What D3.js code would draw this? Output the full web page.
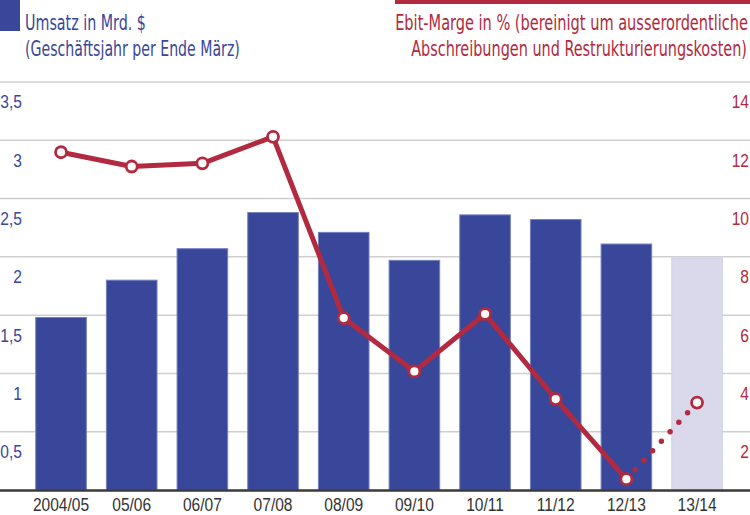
<!DOCTYPE html>
<html>
<head>
<meta charset="utf-8">
<script src="https://cdn.jsdelivr.net/npm/d3@7"></script>
<style>
  body { margin: 0; background: #fff; }
  svg { display: block; font-family: "Liberation Sans Narrow", "DejaVu Sans Condensed", sans-serif; }
</style>
</head>
<body>
<svg id="chart" width="750" height="515"></svg>
<script>
// Umsatz in Mrd. $ und Ebit-Marge in %
var categories = ["2004/05", "05/06", "06/07", "07/08", "08/09", "09/10", "10/11", "11/12", "12/13", "13/14"];
var umsatz = [1.48, 1.80, 2.07, 2.38, 2.21, 1.97, 2.36, 2.32, 2.11, 1.99];
var marge = [11.59, 11.10, 11.21, 12.12, 5.90, 4.07, 6.04, 3.12, 0.37, 3.0];
var prognose = ["13/14"];
var leftTicks = [0.5, 1, 1.5, 2, 2.5, 3, 3.5];
var rightTicks = [2, 4, 6, 8, 10, 12, 14];

var blue = "#39479a", red = "#b22a40", grey = "#cfcfcf";
var width = 750, height = 515;
var svg = d3.select("#chart");

var x = d3.scaleBand()
    .domain(categories)
    .range([25.7, 732.4])
    .paddingInner(0.284)
    .paddingOuter(0.142);
var yL = d3.scaleLinear().domain([0, 3.5]).range([490, 82]);
var yR = d3.scaleLinear().domain([0, 14]).range([490, 82]);
var de = d3.formatLocale({decimal: ",", thousands: ".", grouping: [3], currency: ["", "$"]});
var fmt = de.format("~g");

// grid
svg.append("g").selectAll("line")
    .data(leftTicks)
    .enter().append("line")
    .attr("x1", 0).attr("x2", width)
    .attr("y1", function(d) { return yL(d); })
    .attr("y2", function(d) { return yL(d); })
    .attr("stroke", grey)
    .attr("stroke-width", 1.5);

// bars
svg.append("g").selectAll("rect")
    .data(categories)
    .enter().append("rect")
    .attr("x", function(d) { return x(d); })
    .attr("width", x.bandwidth())
    .attr("y", function(d, i) { return yL(umsatz[i]); })
    .attr("height", function(d, i) { return yL(0) - yL(umsatz[i]); })
    .attr("fill", function(d) { return prognose.indexOf(d) >= 0 ? "#d9d9eb" : blue; })
    .attr("stroke", function(d) { return prognose.indexOf(d) >= 0 ? "#d2d2e8" : "#7480bd"; })
    .attr("stroke-width", 1);

// baseline
svg.append("line")
    .attr("x1", 0).attr("x2", width)
    .attr("y1", yL(0) + 0.5).attr("y2", yL(0) + 0.5)
    .attr("stroke", "#3a3a3a")
    .attr("stroke-width", 2.5);

function styleTicks(sel, color) {
  sel.select(".domain").remove();
  sel.selectAll("text")
      .attr("fill", color)
      .attr("transform", "scale(0.82,1)")
      .style("font-size", "19px")
      .style("font-family", null);
}

// left axis
var axL = svg.append("g")
    .attr("transform", "translate(22,0)")
    .call(d3.axisLeft(yL).tickValues(leftTicks).tickSize(0).tickPadding(0).tickFormat(fmt));
styleTicks(axL, blue);
axL.selectAll("text").attr("dy", 26);

// right axis
var axR = svg.append("g")
    .attr("transform", "translate(749,0)")
    .call(d3.axisLeft(yR).tickValues(rightTicks).tickSize(0).tickPadding(0).tickFormat(fmt));
styleTicks(axR, red);
axR.selectAll("text").attr("dy", 26);

// bottom axis
var axB = svg.append("g")
    .attr("transform", "translate(0," + yL(0) + ")")
    .call(d3.axisBottom(x).tickSize(0).tickPadding(0));
styleTicks(axB, "#333");
axB.selectAll("text").attr("y", 21).attr("dy", 0);

// line
var pts = categories.map(function(d, i) { return [x(d) + x.bandwidth() / 2, yR(marge[i])]; });
var line = d3.line();
svg.append("path")
    .attr("d", line(pts.slice(0, pts.length - 1)))
    .attr("fill", "none")
    .attr("stroke", red)
    .attr("stroke-width", 5)
    .attr("stroke-linejoin", "round");
svg.append("path")
    .attr("d", line(pts.slice(pts.length - 2)))
    .attr("fill", "none")
    .attr("stroke", red)
    .attr("stroke-width", 5.5)
    .attr("stroke-linecap", "round")
    .attr("stroke-dasharray", "0 12.9");
svg.append("g").selectAll("circle")
    .data(pts)
    .enter().append("circle")
    .attr("cx", function(d) { return d[0]; })
    .attr("cy", function(d) { return d[1]; })
    .attr("r", 5.5)
    .attr("fill", "#fff")
    .attr("stroke", red)
    .attr("stroke-width", 2.8);

// legends: squeeze each line to the width it has in the original
function legendText(str, tx, ty, w, anchor, color) {
  var t = svg.append("text")
      .attr("text-anchor", anchor)
      .attr("fill", color)
      .style("font-size", "21px")
      .text(str);
  var k = w / t.node().getComputedTextLength();
  t.attr("transform", "translate(" + tx + "," + ty + ") scale(" + k + ",1)");
}
svg.append("rect").attr("x", 0).attr("y", 0).attr("width", 20).attr("height", 31).attr("fill", blue);
legendText("Umsatz in Mrd. $", 25, 30, 121, "start", blue);
legendText("(Geschäftsjahr per Ende März)", 25, 56, 215, "start", blue);

svg.append("rect").attr("x", 395).attr("y", 0).attr("width", width - 395).attr("height", 4).attr("fill", red);
legendText("Ebit-Marge in % (bereinigt um ausserordentliche", 748, 30, 353, "end", red);
legendText("Abschreibungen und Restrukturierungskosten)", 747, 56, 336, "end", red);
</script>
</body>
</html>
